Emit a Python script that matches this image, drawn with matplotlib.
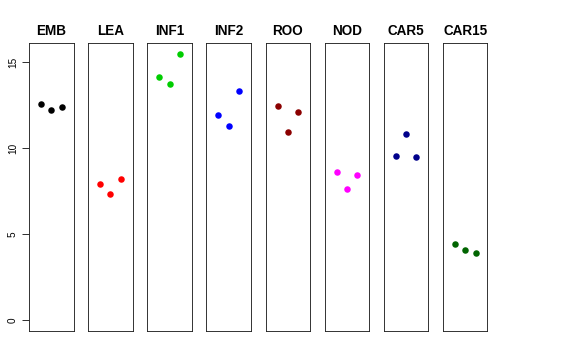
import matplotlib
matplotlib.use("Agg")
import matplotlib.pyplot as plt

plt.rcParams['font.family'] = ['Liberation Sans', 'DejaVu Sans']

tissues = ["EMB", "LEA", "INF1", "INF2", "ROO", "NOD", "CAR5", "CAR15"]
colors = ["black", "red", "#00CD00", "blue", "#8B0000", "magenta", "#00008B", "#006400"]
reps = [1, 2, 3]
values = {
    "EMB":   [12.58, 12.25, 12.42],
    "LEA":   [7.91, 7.37, 8.20],
    "INF1":  [14.17, 13.74, 15.48],
    "INF2":  [11.94, 11.30, 13.31],
    "ROO":   [12.48, 10.95, 12.13],
    "NOD":   [8.64, 7.63, 8.43],
    "CAR5":  [9.53, 10.81, 9.48],
    "CAR15": [4.46, 4.07, 3.94],
}
yticks = [0, 5, 10, 15]

W, H = 576, 360
fig = plt.figure(figsize=(W / 72, H / 72), dpi=72)

ylo, yhi = 0, 15.5
ypad = 0.04 * (yhi - ylo)
xlo, xhi = 0, 4
xpad = 0.04 * (xhi - xlo)

left0 = 29
pitch = 59.14
pw = 44.5
top = 43
bottom = 331

for i, (t, c) in enumerate(zip(tissues, colors)):
    x0 = left0 + i * pitch
    ax = fig.add_axes([x0 / W, 1 - bottom / H, pw / W, (bottom - top) / H])
    ax.plot(reps, values[t], 'o', color=c, markersize=6.5, markeredgewidth=0)
    ax.set_xlim(xlo - xpad, xhi + xpad)
    ax.set_ylim(ylo - ypad, yhi + ypad)
    ax.set_xticks([])
    for s in ax.spines.values():
        s.set_linewidth(0.9)
        s.set_color('#222222')
    ax.set_title(t, fontsize=13.5, fontweight='bold', pad=8)
    if i == 0:
        ax.set_yticks(yticks)
        ax.set_yticklabels([str(v) for v in yticks], rotation=90, va='center', fontsize=10)
        ax.tick_params(axis='y', length=7, width=0.8, pad=4)
    else:
        ax.set_yticks([])

fig.savefig("out.png", dpi=72)
